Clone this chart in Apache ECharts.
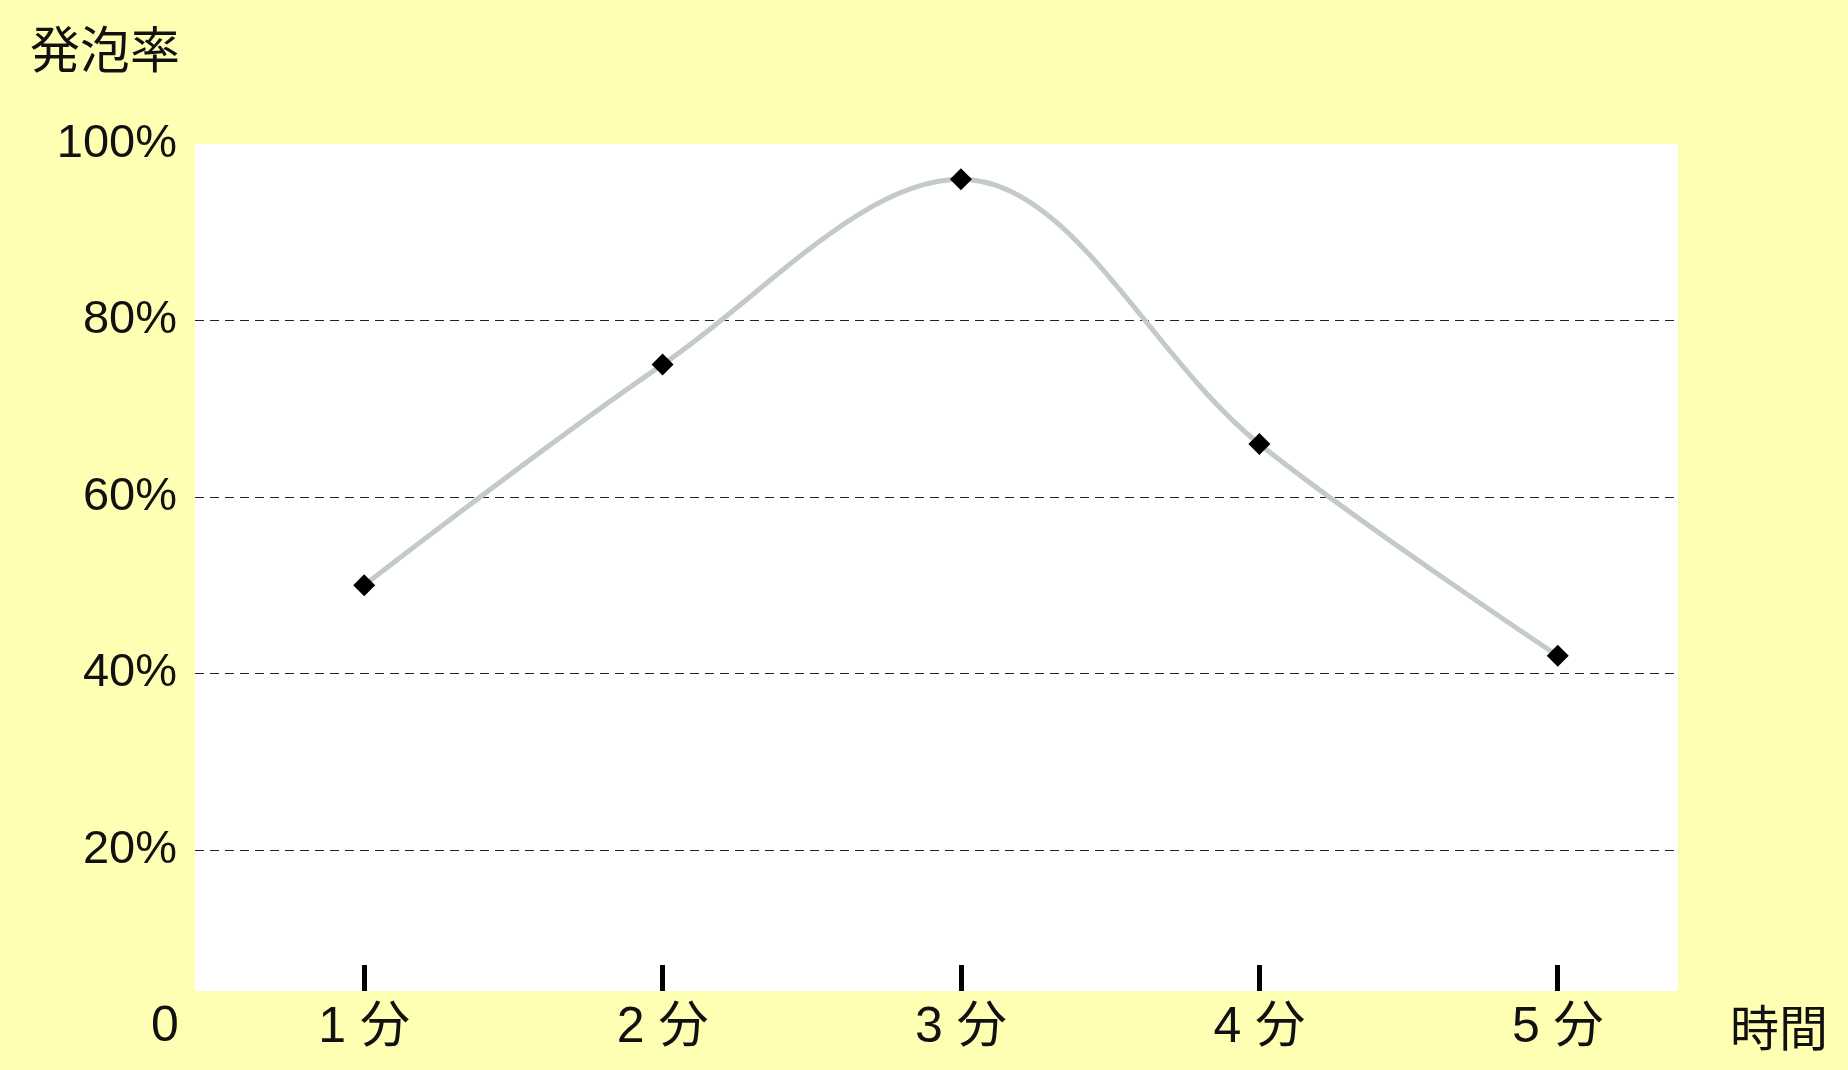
<!DOCTYPE html>
<html>
<head>
<meta charset="utf-8">
<script src="https://cdn.jsdelivr.net/npm/echarts@6/dist/echarts.min.js"></script>
<style>
html,body{margin:0;padding:0;background:#ffffb4;}
#chart{width:1848px;height:1070px;}
</style>
</head>
<body>
<div id="chart"></div>
<script>
const categories = ['1 分', '2 分', '3 分', '4 分', '5 分'];
const foamRate = [50, 75, 96, 66, 42];
const yTicks = [20, 40, 60, 80, 100];

const numFont = '"Liberation Sans Narrow", "Liberation Sans", "Noto Sans CJK JP", sans-serif';
const cjkFont = '"Noto Sans CJK JP", sans-serif';

const chart = echarts.init(document.getElementById('chart'));
const tickPos = categories.map((c, i) => i + 1);

chart.setOption({
  backgroundColor: '#ffffb4',
  animation: false,
  grid: {
    left: 195, right: 170, top: 144, bottom: 79,
    show: true, backgroundColor: '#ffffff', borderWidth: 0
  },
  graphic: [
    { type: 'text', left: 30, top: 24, style: { text: '発泡率', font: '50px ' + cjkFont, fill: '#111' } },
    { type: 'text', x: 165, y: 1027, style: { text: '0', font: '50px ' + numFont, fill: '#111', align: 'center', verticalAlign: 'middle' } },
    { type: 'text', x: 1779, y: 1027, style: { text: '時間', font: '49px ' + cjkFont, fill: '#111', align: 'center', verticalAlign: 'middle' } }
  ],
  xAxis: {
    type: 'value',
    min: 0.433,
    max: 5.403,
    axisLine: { show: false },
    splitLine: { show: false },
    axisTick: {
      show: true, inside: true, length: 26,
      customValues: tickPos,
      lineStyle: { color: '#000', width: 5 }
    },
    axisLabel: {
      customValues: tickPos,
      formatter: v => categories[Math.round(v) - 1] || '',
      color: '#111',
      fontSize: 50,
      fontFamily: numFont,
      margin: 12,
      lineHeight: 50
    }
  },
  yAxis: {
    type: 'value',
    min: 4,
    max: 100,
    axisLine: { show: false },
    axisTick: { show: false },
    axisLabel: {
      customValues: yTicks,
      formatter: v => v + '%',
      color: '#111',
      fontSize: 47,
      fontFamily: numFont,
      margin: 18
    },
    splitLine: {
      show: true,
      showMinLine: false,
      showMaxLine: false,
      lineStyle: { color: '#222', width: 1, type: [9, 6] }
    }
  },
  series: [{
    type: 'line',
    data: foamRate.map((v, i) => [i + 1, v]),
    smooth: 0.35,
    symbol: 'diamond',
    symbolSize: 22,
    itemStyle: { color: '#000' },
    lineStyle: { color: '#c3cbc7', width: 5 },
    z: 3
  }]
});
</script>
</body>
</html>
